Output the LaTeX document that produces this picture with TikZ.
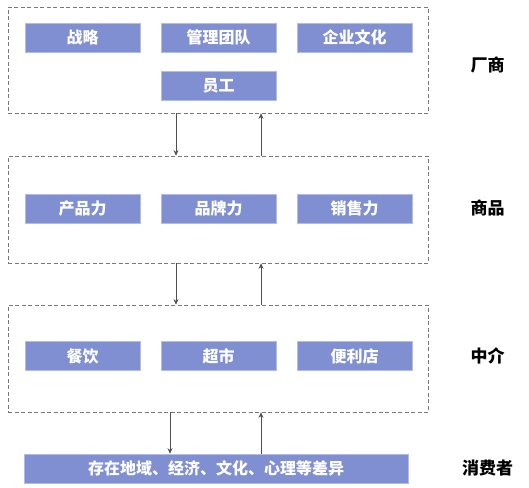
\documentclass[tikz,border=0pt]{standalone}
\usepackage{fontspec}
\usetikzlibrary{arrows.meta}
\newfontfamily\cjk{Noto Sans CJK SC}
\definecolor{boxblue}{RGB}{127,143,210}
\definecolor{framegray}{RGB}{120,120,120}
\definecolor{arrowgray}{RGB}{80,80,80}
\tikzset{
  item/.style={fill=boxblue,draw=boxblue!60!white,line width=0.6pt,text=white,
    minimum width=115pt,minimum height=29pt,inner sep=0pt,
    font=\cjk\bfseries\fontsize{16}{16}\selectfont},
  layer/.style={draw=framegray,dashed,dash pattern=on 4pt off 2.5pt,line width=0.7pt,
    minimum width=420pt,minimum height=107pt,inner sep=0pt},
  tag/.style={font=\cjk\bfseries\fontsize{17}{17}\selectfont,text=black},
  flow/.style={-{Stealth[length=5.5pt,width=5pt]},draw=arrowgray,line width=0.7pt}
}
\begin{document}
\begin{tikzpicture}[>=stealth,x=1pt,y=-1pt]
            \useasboundingbox (0,0) rectangle (529,487);
            % layers
            \node[layer,minimum height=106pt] (maker) at (218,60) {};
            \node[layer] (goods) at (218,209.5) {};
            \node[layer] (agent) at (218,358.5) {};
            % maker
            \node[item] (strategy) at (82.5,37.5) {战略};
            \node[item] (team) at (218.5,37.5) {管理团队};
            \node[item] (culture) at (354.5,37.5) {企业文化};
            \node[item] (staff) at (218.5,86) {员工};
            % goods
            \node[item] (product) at (82.5,208.5) {产品力};
            \node[item] (brand) at (218.5,208.5) {品牌力};
            \node[item] (sales) at (354.5,208.5) {销售力};
            % agent
            \node[item] (dining) at (82.5,356) {餐饮};
            \node[item] (market) at (218.5,356) {超市};
            \node[item] (store) at (354.5,356) {便利店};
            % consumer
            \node[item,minimum width=384pt] (buyer) at (216,468.5) {存在地域、经济、文化、心理等差异};
            % tags
            \node[tag] (t1) at (487.5,65) {厂商};
            \node[tag] (t2) at (487.5,208) {商品};
            \node[tag] (t3) at (487.5,356) {中介};
            \node[tag] (t4) at (487.5,468) {消费者};
            % flows
            \draw[flow] ([xshift=-42pt]maker.south) -- ([xshift=-42pt]goods.north);
            \draw[flow] ([xshift=43pt]goods.north) -- ([xshift=43pt]maker.south);
            \draw[flow] ([xshift=-42pt]goods.south) -- ([xshift=-42pt]agent.north);
            \draw[flow] ([xshift=43pt]agent.north) -- ([xshift=43pt]goods.south);
            \draw[flow] ([xshift=-48pt]agent.south) -- ([xshift=-46pt]buyer.north);
            \draw[flow] ([xshift=45pt]buyer.north) -- ([xshift=43pt]agent.south);
        \end{tikzpicture}
\end{document}
